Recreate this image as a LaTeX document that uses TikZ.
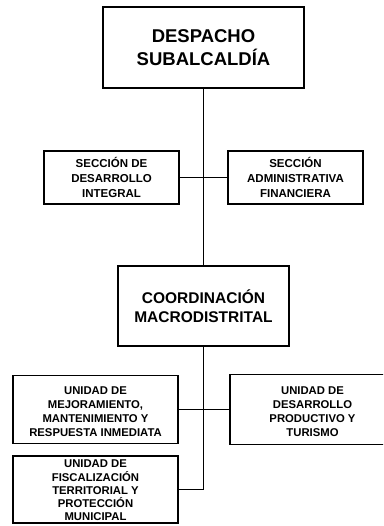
\documentclass[tikz,border=0pt]{standalone}
\usepackage{fontspec}
\setmainfont{Liberation Sans}
\begin{document}
\begin{tikzpicture}[x=1pt,y=-1pt,
  box/.style={draw=black, rectangle, line width=1.8pt, inner sep=0pt, align=center},
  link/.style={draw=black, line width=1.8pt},
  lbl/.style={inner sep=0pt, align=center},
  big/.style={font=\fontsize{18.5}{23}\selectfont\bfseries},
  mid/.style={font=\fontsize{15.5}{19}\selectfont\bfseries},
  small/.style={font=\fontsize{11.5}{15}\selectfont\bfseries},
  tiny/.style={font=\fontsize{11.3}{14}\selectfont\bfseries},
  tinier/.style={font=\fontsize{11.3}{13.2}\selectfont\bfseries}]
\useasboundingbox (0,0) rectangle (383,526);
\clip (0,0) rectangle (383,526);
\node[box, big, line width=2.6pt, minimum width=201pt, minimum height=81pt] (top) at (203.5,47.5) {DESPACHO\\SUBALCALDÍA};
\node[box, small, minimum width=135pt, minimum height=53pt] (secl) at (111.5,177.5) {SECCIÓN DE\\DESARROLLO\\INTEGRAL};
\node[box, small, minimum width=135pt, minimum height=53pt] (secr) at (295.5,177.5) {SECCIÓN\\ADMINISTRATIVA\\FINANCIERA};
\node[box, mid, line width=2.1pt, minimum width=171pt, minimum height=80pt] (coord) at (203.5,306) {COORDINACIÓN\\MACRODISTRITAL};
\node[box, minimum width=165pt, minimum height=68pt] (umej) at (95.5,409.5) {};
\node[lbl, tiny] (umejt) at ([yshift=-2pt]umej.center) {UNIDAD DE\\MEJORAMIENTO,\\MANTENIMIENTO Y\\RESPUESTA INMEDIATA};
\node[box, minimum width=165pt, minimum height=70pt] (udes) at (312.5,409.5) {};
\node[lbl, tiny] (udest) at ([yshift=-2pt]udes.center) {UNIDAD DE\\DESARROLLO\\PRODUCTIVO Y\\TURISMO};
\node[box, minimum width=165pt, minimum height=67pt] (ufis) at (95.5,489.5) {};
\node[lbl, tinier] (ufist) at ([yshift=-1pt]ufis.center) {UNIDAD DE\\FISCALIZACIÓN\\TERRITORIAL Y\\PROTECCIÓN\\MUNICIPAL};
\coordinate (bend) at (coord.south |- ufis.east);
\draw[link] (top.south) -- (coord.north);
\draw[link] (secl.east) -- (secr.west);
\draw[link] (umej.east) -- (udes.west);
\draw[link] (coord.south) -- (bend) -- (ufis.east);
\end{tikzpicture}
\end{document}
